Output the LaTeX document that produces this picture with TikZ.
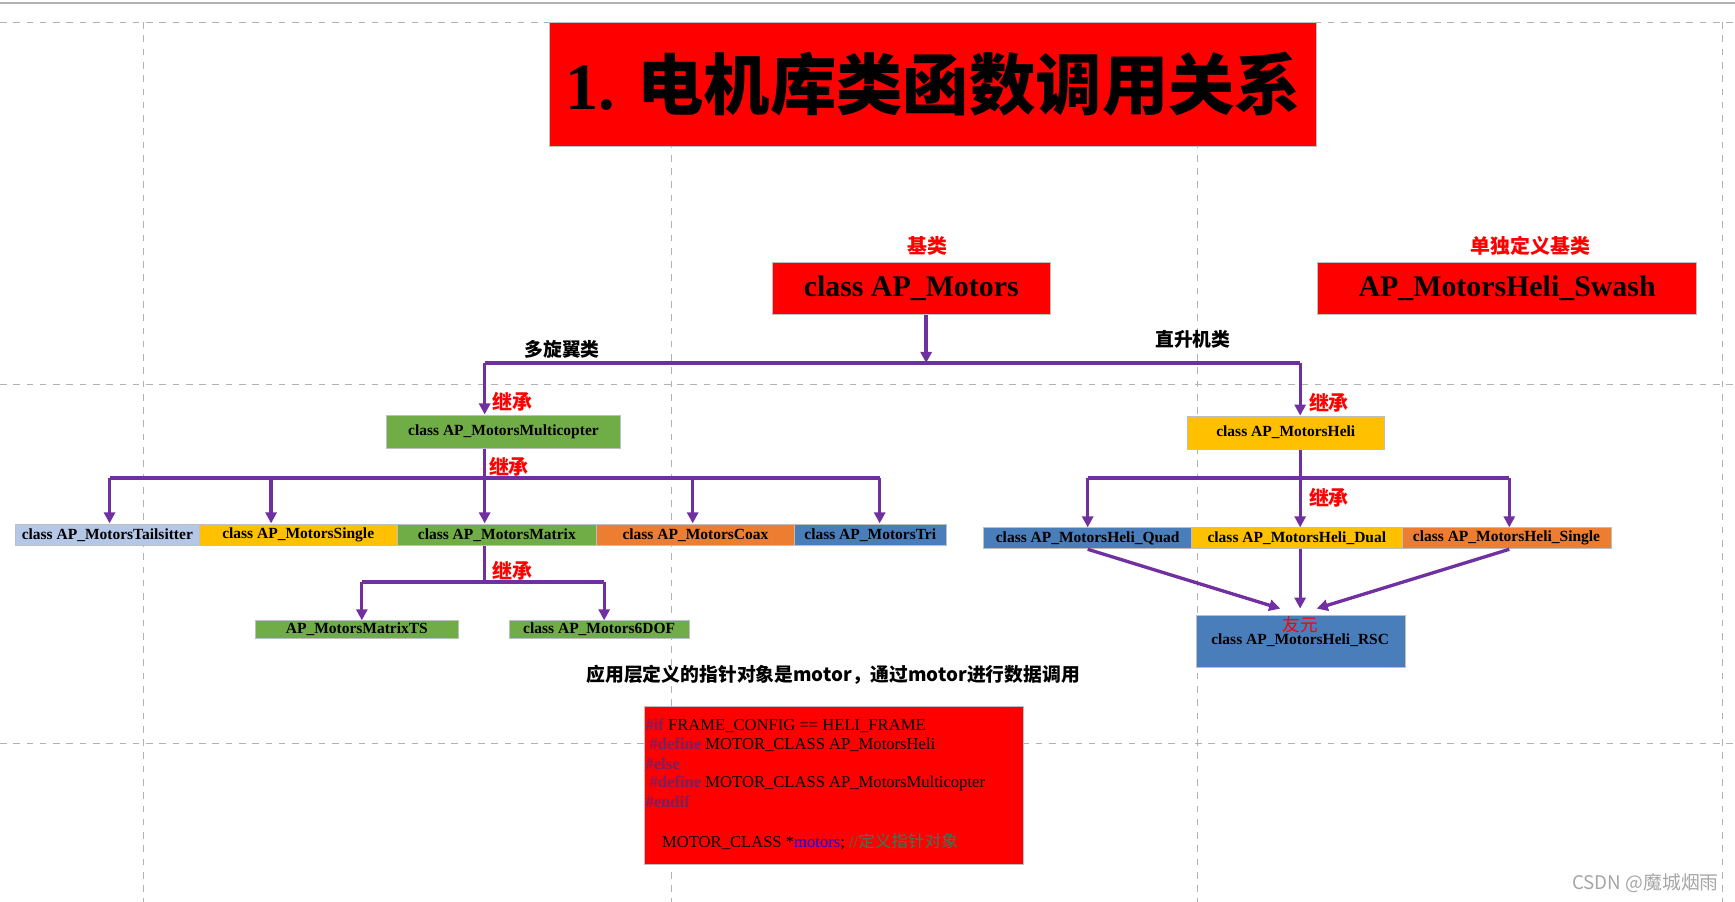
\documentclass[tikz,border=0pt]{standalone}
\usepackage{fontspec}
\setmainfont{Liberation Serif}
\newfontfamily\cjk{Noto Sans CJK SC}
\usetikzlibrary{arrows.meta}
\definecolor{pur}{HTML}{7030A0}
\definecolor{gr}{HTML}{70AD47}
\definecolor{ye}{HTML}{FFC000}
\definecolor{orn}{HTML}{ED7D31}
\definecolor{bl}{HTML}{4A7EBB}
\definecolor{lb}{HTML}{B4C7E7}
\definecolor{dp}{HTML}{7B1F5F}
\definecolor{cg}{HTML}{2E7D5B}
\newcommand\bx[8]{\node[draw=black!25, fill=#6, inner sep=0pt, minimum width={(#4-#2)*0.5pt}, minimum height={(#5-#3)*0.5pt}, font=#8] (#1) at ({(#2+#4)/2},{(#3+#5)/2}) {#7};}
\tikzset{arr/.style={pur, line width=1.5pt, -{Triangle[length=5pt,width=5pt]}},
 ln/.style={pur, line width=1.5pt},
 jc/.style={text=red, font=\cjk\bfseries\fontsize{9}{9}\selectfont},
 dsh/.style={gray!60, dashed, line width=0.4pt}}
\begin{document}
\begin{tikzpicture}[x=0.5pt,y=-0.5pt]
\useasboundingbox (0,0) rectangle (1568,815);
\draw[gray!60,line width=0.8pt] (0,3)--(1568,3);
\foreach \x in {130,607,1082,1557} \draw[dsh] (\x,20)--(\x,815);
\foreach \y in {20,347,672} \draw[dsh] (0,\y)--(1568,\y);
\bx{title}{497}{20}{1190}{132}{red}{1. {\cjk 电机库类函数调用关系}}{\bfseries\fontsize{30}{30}\selectfont}
\node[jc] (jl) at (838,222) {基类};
\node[jc] (dl) at (1383,222) {单独定义基类};
\bx{mot}{698}{237}{949}{284}{red}{class AP\_Motors}{\bfseries\fontsize{13.5}{14}\selectfont}
\bx{sw}{1191}{237}{1533}{284}{red}{AP\_MotorsHeli\_Swash}{\bfseries\fontsize{13.5}{14}\selectfont}
\bx{mc}{349}{375}{561}{405}{gr}{class AP\_MotorsMulticopter}{\bfseries\fontsize{7}{8}\selectfont}
\bx{he}{1073}{376}{1251}{406}{ye}{class AP\_MotorsHeli}{\bfseries\fontsize{7}{8}\selectfont}
\bx{ts}{14}{474}{180}{493}{lb}{class AP\_MotorsTailsitter}{\bfseries\fontsize{7}{8}\selectfont}
\bx{si}{180}{474}{359}{493}{ye}{class AP\_MotorsSingle}{\bfseries\fontsize{7}{8}\selectfont}
\bx{ma}{359}{474}{539}{493}{gr}{class AP\_MotorsMatrix}{\bfseries\fontsize{7}{8}\selectfont}
\bx{co}{539}{474}{718}{493}{orn}{class AP\_MotorsCoax}{\bfseries\fontsize{7}{8}\selectfont}
\bx{tr}{718}{474}{855}{493}{bl}{class AP\_MotorsTri}{\bfseries\fontsize{7}{8}\selectfont}
\bx{mts}{231}{561}{414}{577}{gr}{AP\_MotorsMatrixTS}{\bfseries\fontsize{7}{8}\selectfont}
\bx{dof}{460}{561}{623}{577}{gr}{class AP\_Motors6DOF}{\bfseries\fontsize{7}{8}\selectfont}
\bx{qu}{889}{477}{1077}{496}{bl}{class AP\_MotorsHeli\_Quad}{\bfseries\fontsize{7}{8}\selectfont}
\bx{du}{1077}{477}{1267}{496}{ye}{class AP\_MotorsHeli\_Dual}{\bfseries\fontsize{7}{8}\selectfont}
\bx{hs}{1267}{477}{1456}{496}{orn}{class AP\_MotorsHeli\_Single}{\bfseries\fontsize{7}{8}\selectfont}
\bx{rsc}{1081}{556}{1270}{603}{bl}{}{}
\node[text=red,font=\cjk\fontsize{8}{8}\selectfont] (yy) at (1175,565) {友元};
\node[font=\bfseries\fontsize{7}{8}\selectfont] (rt) at (1175,579) {class AP\_MotorsHeli\_RSC};
\node[font=\cjk\bfseries\fontsize{8.5}{9}\selectfont] (l1) at (508,316) {多旋翼类};
\node[font=\cjk\bfseries\fontsize{8.5}{9}\selectfont] (l2) at (1078,307) {直升机类};
\node[jc] at (463,363) {继承};
\node[jc] at (1201,364) {继承};
\node[jc] at (460,422) {继承};
\node[jc] at (1201,450) {继承};
\node[jc] at (463,516) {继承};
% top tree
\coordinate (a) at (837,328); \coordinate (aL) at (438,328); \coordinate (aR) at (1175,328);
\draw[arr] (mot.south -| a) -- (a);
\draw[ln] (aL)--(aR);
\draw[arr] (aL) -- (mc.north -| aL);
\draw[arr] (aR) -- (he.north -| aR);
% multicopter tree
\coordinate (b) at (438,432);
\draw[ln] (mc.south -| b) -- (b);
\draw[ln] (99,432) coordinate (bL) -- (795,432) coordinate (bR);
\foreach \n/\x in {ts/99,si/245,ma/438,co/626,tr/795}{
  \coordinate (t\n) at (\x,432);
  \draw[arr] (t\n) -- (\x,473);}
% matrix tree
\coordinate (c) at (438,526);
\draw[arr,-] (ma.south -| c) -- (c);
\draw[ln] (327,526) coordinate (cL) -- (546,526) coordinate (cR);
\draw[arr] (cL) -- (mts.north -| cL);
\draw[arr] (cR) -- (dof.north -| cR);
% heli tree
\coordinate (d) at (1175,432);
\draw[ln] (he.south -| d) -- (d);
\draw[ln] (983,432) coordinate (dL) -- (1364,432) coordinate (dR);
\draw[arr] (dL) -- (qu.north -| dL);
\draw[arr] (d) -- (du.north -| d);
\draw[arr] (dR) -- (hs.north -| dR);
\draw[arr] (qu.south -| dL) -- (1157,550);
\draw[arr] (du.south -| d) -- (1175,550);
\draw[arr] (hs.south -| dR) -- (1190,550);
\node[font=\cjk\bfseries\fontsize{8.5}{9}\selectfont] (app) at (753,610) {应用层定义的指针对象是motor，通过motor进行数据调用};
\bx{code}{582}{638}{925}{781}{red}{}{}
\begin{scope}[every node/.style={anchor=west,inner sep=0pt,font=\fontsize{7.5}{8}\selectfont}]
\node (c1) at (583,656) {\textcolor{dp}{\bfseries\#if} FRAME\_CONFIG == HELI\_FRAME};
\node (c2) at (583,673) {\ \textcolor{dp}{\bfseries\#define} MOTOR\_CLASS AP\_MotorsHeli};
\node (c3) at (583,690) {\textcolor{dp}{\bfseries\#else}};
\node (c4) at (583,708) {\ \textcolor{dp}{\bfseries\#define} MOTOR\_CLASS AP\_MotorsMulticopter};
\node (c5) at (583,725) {\textcolor{dp}{\bfseries\#endif}};
\node (c6) at (598,761) {MOTOR\_CLASS *\textcolor{blue}{motors}; \textcolor{cg}{//{\cjk 定义指针对象}}};
\end{scope}
\node[text=gray!70,font=\cjk\fontsize{8.5}{9}\selectfont] (wm) at (1487,798) {CSDN @魔城烟雨};
\end{tikzpicture}
\end{document}
